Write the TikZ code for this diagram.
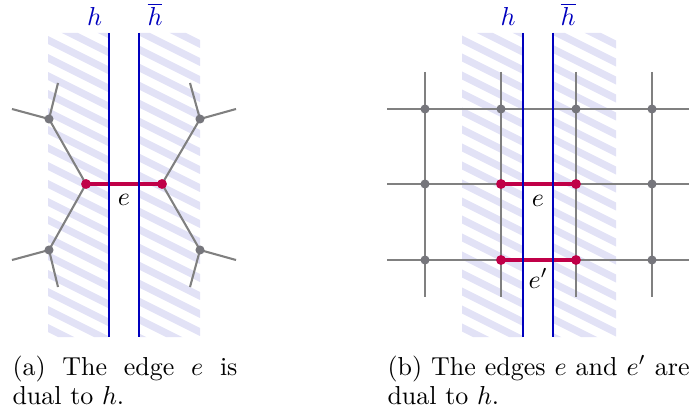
\documentclass[tikz,border=0pt]{standalone}
\definecolor{hatchcol}{RGB}{226,226,246}
\definecolor{linegray}{RGB}{128,128,128}
\definecolor{dotgray}{RGB}{118,118,124}
\definecolor{edgered}{RGB}{192,0,72}
\definecolor{hblue}{RGB}{0,0,190}
\begin{document}
\begin{tikzpicture}[x=0.385pt,y=-0.385pt,
  hatchline/.style={draw=hatchcol,line width=2.8pt},
  gline/.style={draw=linegray,line width=0.8pt},
  hline/.style={draw=hblue,line width=0.85pt},
  redge/.style={draw=edgered,line width=1.9pt},
  gdot/.style={fill=dotgray},
  rdot/.style={fill=edgered},
  hlab/.style={text=hblue,anchor=base,inner sep=0pt},
  elab/.style={anchor=base,inner sep=0pt},
  captext/.style={anchor=base west,inner sep=0pt}]
\useasboundingbox (0,0) rectangle (693,414);

% ---------- hatching ----------
\begin{scope}
  \clip (48,33) rectangle (109,337) (139,33) rectangle (200,337);
  \foreach \k in {-8,...,20} \draw[hatchline] (40,36+18*\k) -- (210,36+18*\k+85);
\end{scope}
\begin{scope}
  \clip (462,33) rectangle (523,337) (553,33) rectangle (616,337);
  \foreach \k in {-8,...,20} \draw[hatchline] (455,36+18*\k) -- (625,36+18*\k+85);
\end{scope}

% ---------- panel (a) ----------
\coordinate (u) at (86,184);
\coordinate (v) at (162,184);
\coordinate (ul) at (49,119);
\coordinate (ur) at (200,119);
\coordinate (ll) at (49,250);
\coordinate (lr) at (200,250);
\coordinate (ul1) at (12,109);
\coordinate (ul2) at (58,83);
\coordinate (ur1) at (236,109);
\coordinate (ur2) at (190,83);
\coordinate (ll1) at (12,260);
\coordinate (ll2) at (58,287);
\coordinate (lr1) at (236,260);
\coordinate (lr2) at (190,287);

\draw[gline] (u) -- (ul) (u) -- (ll) (v) -- (ur) (v) -- (lr);
\draw[gline] (ul) -- (ul1) (ul) -- (ul2) (ur) -- (ur1) (ur) -- (ur2);
\draw[gline] (ll) -- (ll1) (ll) -- (ll2) (lr) -- (lr1) (lr) -- (lr2);
\draw[redge] (u) -- (v);
\foreach \p in {ul,ur,ll,lr} \fill[gdot] (\p) circle[radius=1.75pt];
\foreach \p in {u,v} \fill[rdot] (\p) circle[radius=1.9pt];

\coordinate (ha1) at (109,33);
\coordinate (ha2) at (109,337);
\coordinate (hb1) at (139,33);
\coordinate (hb2) at (139,337);
\draw[hline] (ha1) -- (ha2);
\draw[hline] (hb1) -- (hb2);
\node[hlab] (hla) at (94.5,26) {$h$};
\node[hlab] (hbla) at (155,26) {$\overline{h}$};
\node[elab] (ea) at (124,205) {$e$};

% ---------- panel (b) ----------
\foreach \x [count=\i] in {425,501,576,652} {
  \coordinate (vt\i) at (\x,72);
  \coordinate (vb\i) at (\x,297);
}
\foreach \y [count=\j] in {109,184,260} {
  \coordinate (hl\j) at (387,\y);
  \coordinate (hr\j) at (689,\y);
}
\foreach \x [count=\i] in {425,501,576,652}
  \foreach \y [count=\j] in {109,184,260}
    \coordinate (g\i\j) at (\x,\y);

\foreach \i in {1,2,3,4} \draw[gline] (vt\i) -- (vb\i);
\foreach \j in {1,2,3} \draw[gline] (hl\j) -- (hr\j);
\draw[redge] (g22) -- (g32);
\draw[redge] (g23) -- (g33);
\foreach \p in {g11,g12,g13,g21,g31,g41,g42,g43} \fill[gdot] (\p) circle[radius=1.75pt];
\foreach \p in {g22,g32,g23,g33} \fill[rdot] (\p) circle[radius=1.9pt];

\coordinate (hc1) at (523,33);
\coordinate (hc2) at (523,337);
\coordinate (hd1) at (553,33);
\coordinate (hd2) at (553,337);
\draw[hline] (hc1) -- (hc2);
\draw[hline] (hd1) -- (hd2);
\node[hlab] (hlb) at (508,26) {$h$};
\node[hlab] (hblb) at (568,26) {$\overline{h}$};
\node[elab] (eb) at (538,206) {$e$};
\node[anchor=base west,inner sep=0pt] (epb) at (528,288) {$e'$};

% ---------- captions ----------
\node[captext] (capa1) at (12,375) {\makebox[86.6pt][s]{(a) The edge $e$ is}};
\node[captext] (capa2) at (12,404) {dual to $h$.};
\node[captext] (capb1) at (387,375) {\makebox[116.3pt][s]{(b) The edges $e$ and $e'$ are}};
\node[captext] (capb2) at (387,404) {dual to $h$.};
\end{tikzpicture}
\end{document}
